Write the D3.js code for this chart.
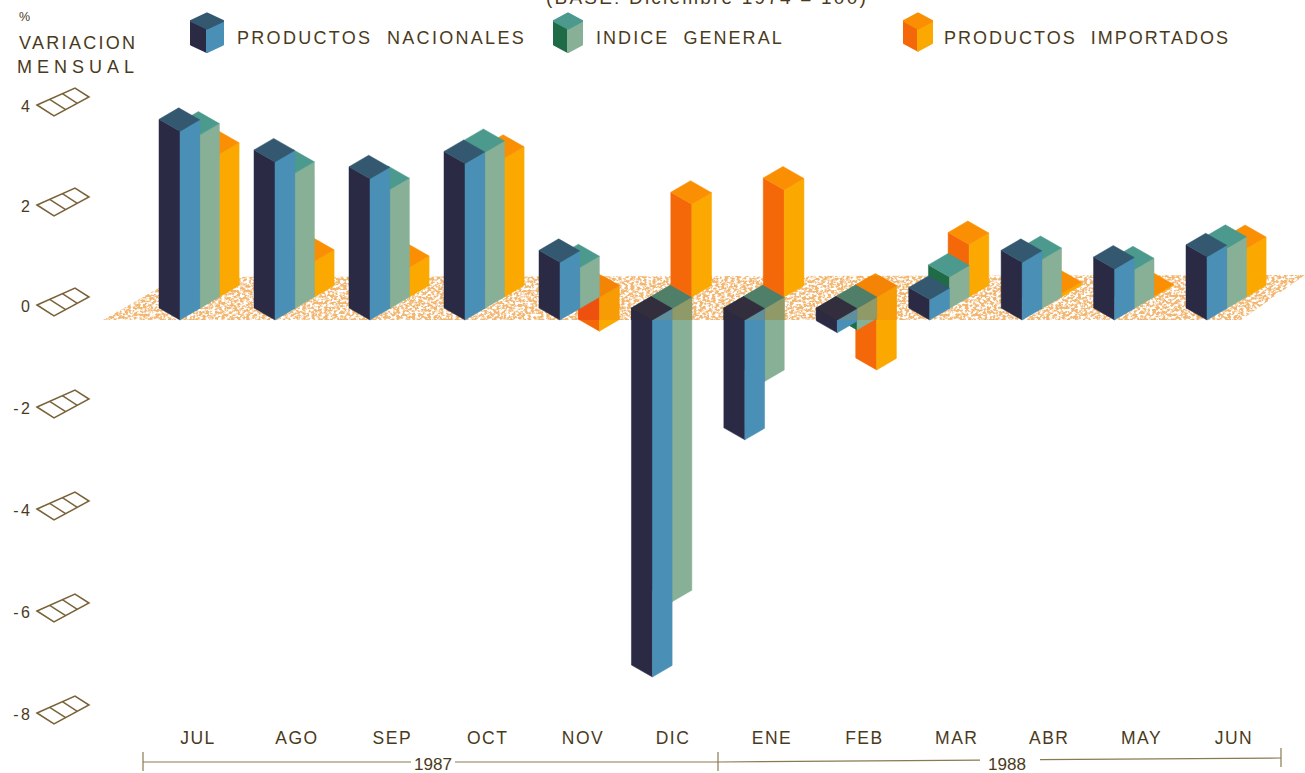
<!DOCTYPE html>
<html><head><meta charset="utf-8">
<script src="https://cdn.jsdelivr.net/npm/d3@7"></script>
<style>html,body{margin:0;background:#fff}svg{display:block}text{font-family:"Liberation Sans",Arial,sans-serif;fill:#4a3a1c}</style>
</head><body><div id="c"></div>
<script>
const months=["JUL","AGO","SEP","OCT","NOV","DIC","ENE","FEB","MAR","ABR","MAY","JUN"];
const seriesNames=["PRODUCTOS  NACIONALES","INDICE  GENERAL","PRODUCTOS  IMPORTADOS"];
const nacionales=[3.7,3.1,2.77,3.07,1.13,-7.0,-2.35,-0.25,0.4,1.13,1.0,1.24];
const general=[3.4,2.65,2.33,3.06,0.8,-5.75,-1.43,-0.42,0.62,0.96,0.76,1.18];
const importados=[2.8,0.7,0.58,2.72,-0.67,1.82,2.1,-1.43,1.03,0.07,0.02,0.95];
const yTicks=[4,2,0,-2,-4,-6,-8];
const years=["1987","1988"];
const W=1305,H=773;
const svg=d3.select("#c").append("svg").attr("width",W).attr("height",H);
const defs=svg.append("defs");
const f=defs.append("filter").attr("id","grain").attr("x",0).attr("y",0).attr("width","100%").attr("height","100%");
f.append("feTurbulence").attr("type","fractalNoise").attr("baseFrequency","0.32 0.42").attr("numOctaves",2).attr("seed",4).attr("result","n");
f.append("feColorMatrix").attr("in","n").attr("type","matrix").attr("values","0 0 0 0 0  0 0 0 0 0  0 0 0 0 0  5 0 0 0 -1.95").attr("result","m");
f.append("feComposite").attr("in","SourceGraphic").attr("in2","m").attr("operator","in");
const floorPts=[[103,320],[178,277],[1305,275],[1241,320]];
const line=d3.line();
defs.append("clipPath").attr("id","floorClip").append("path").attr("d",line(floorPts)+"Z");

const x=d3.scaleLinear().domain([0,4,11]).range([180,560,1207]);
const y=d3.scaleLinear().domain([0,1]).range([320,269]);
const depth={dx:19.7,dy:-11.5};
const leftV={dx:-21,dy:-12},rightV={dx:19.7,dy:-11.5};
const palette=[{l:"#2b2a45",r:"#4a90b6",t:"#33586f"},{l:"#1f6b47",r:"#87b096",t:"#4c9a8e"},{l:"#f4680a",r:"#fba900",t:"#fa8f04"}];
const tinted=[{l:"#2d2a40",r:"#5f8f9c",t:"#322e3e"},{l:"#2f6b47",r:"#8f9a68",t:"#4f7f69"},{l:"#ee5010",r:"#f79c05",t:"#f38406"}];
const all=[nacionales,general,importados];
function face(g,pts,col,sw){g.append("path").attr("d",line(pts)+"Z").attr("fill",col).attr("stroke",col).attr("stroke-width",sw).attr("stroke-linejoin","round");}
function cube(g,cx,cy0,cy1,c,lv,rv,sw){
  lv=lv||leftV;rv=rv||rightV;sw=sw===undefined?0.5:sw;
  const F=[cx,cy0],L=[cx+lv.dx,cy0+lv.dy],R=[cx+rv.dx,cy0+rv.dy],B=[cx+lv.dx+rv.dx,cy0+lv.dy+rv.dy];
  const Fb=[cx,cy1],Lb=[cx+lv.dx,cy1+lv.dy],Rb=[cx+rv.dx,cy1+rv.dy];
  face(g,[L,F,Fb,Lb],c.l,sw);
  face(g,[F,R,Rb,Fb],c.r,sw);
  face(g,[L,B,R,F],c.t,sw);
}
function drawBars(g,cond,pal){
  months.forEach((m,i)=>{
    [2,1,0].forEach(s=>{
      const v=all[s][i];
      if(!cond(v))return;
      const cx=x(i)+s*depth.dx,off=s*depth.dy;
      cube(g,cx,y(Math.max(v,0))+off,y(Math.min(v,0))+off,pal[s]);
    });
  });
}
// stippled floor, then downward bars seen through the floor, then upward bars
svg.append("path").attr("d",line(floorPts)+"Z").attr("fill","#f2b670").attr("filter","url(#grain)");
drawBars(svg.append("g"),v=>v<0,palette);
drawBars(svg.append("g").attr("clip-path","url(#floorClip)"),v=>v<0,tinted);
drawBars(svg.append("g"),v=>v>=0,palette);

// y axis icons
const yIcon=d3.scaleLinear().domain([-8,0,4]).range([710,302,102]);
const gy=svg.append("g");
yTicks.forEach(t=>{
  const cy=yIcon(t),cxi=63;
  const g=gy.append("g").attr("transform",`translate(${cxi},${cy})`);
  const a=[-26,3],b=[12,-14],c=[26,-5],d=[-9,14];
  g.append("path").attr("d",line([a,b,c,d])+"Z").attr("fill","none").attr("stroke","#7a6238").attr("stroke-width",1.5);
  [1/3,2/3].forEach(k=>{
    g.append("path").attr("d",line([[a[0]+(b[0]-a[0])*k,a[1]+(b[1]-a[1])*k],[d[0]+(c[0]-d[0])*k,d[1]+(c[1]-d[1])*k]])).attr("stroke","#7a6238").attr("stroke-width",1.4);
  });
  gy.append("text").attr("x",30).attr("y",cy+10).attr("text-anchor","end").attr("font-size",16).style("word-spacing","-2px").text(t<0?"- "+(-t):t);
});

// headers
svg.append("text").attr("x",546).attr("y",4).attr("font-size",19).attr("letter-spacing",2.2).text("(BASE: Diciembre 1974 = 100)");
svg.append("text").attr("x",19).attr("y",21).attr("font-size",12.5).text("%");
svg.append("text").attr("x",19).attr("y",49).attr("font-size",18).attr("letter-spacing",2.3).text("VARIACION");
svg.append("text").attr("x",17).attr("y",73).attr("font-size",18).attr("letter-spacing",5).text("MENSUAL");

// legend
const legendX=[207,568,918],legendW=[16,14,14],legendTextX=[237,596,944],legendLS=[2.3,2.05,2.0],legendBottom=[52,52,50.5];
seriesNames.forEach((n,s)=>{
  const g=svg.append("g"),w=legendW[s];
  cube(g,legendX[s],28.5,legendBottom[s],palette[s],{dx:-w,dy:-7.5},{dx:w,dy:-7.5},2);
  svg.append("text").attr("x",legendTextX[s]).attr("y",44).attr("font-size",18).attr("letter-spacing",legendLS[s]).style("white-space","pre").text(n);
});

// month labels
const xLab=d3.scaleLinear().domain([0,1,4,5,6,11]).range([198,297,583,673,772,1234]);
svg.append("g").selectAll("text").data(months).join("text")
  .attr("x",(d,i)=>xLab(i)).attr("y",744).attr("text-anchor","middle").attr("font-size",17.5).attr("letter-spacing",1.5).text(d=>d);

// year brackets
const xYear=d3.scaleLinear().domain([0,1,2]).range([143,718,1281]);
const yearY=[762,762,758];
const gapC=[433,1007],gapL=[22,27],gapR=[22,33];
const gb=svg.append("g").attr("stroke","#8a7a50").attr("stroke-width",1.2).attr("fill","none");
years.forEach((yr,i)=>{
  const a=xYear(i),b=xYear(i+1),m=gapC[i];
  const yAt=d3.scaleLinear().domain([a,b]).range([yearY[i],yearY[i+1]]);
  gb.append("line").attr("x1",a).attr("x2",m-gapL[i]).attr("y1",yAt(a)).attr("y2",yAt(m-gapL[i]));
  gb.append("line").attr("x1",m+gapR[i]).attr("x2",b).attr("y1",yAt(m+gapR[i])).attr("y2",yAt(b));
  svg.append("text").attr("x",m).attr("y",770).attr("text-anchor","middle").attr("font-size",17).attr("textLength",38).attr("lengthAdjust","spacingAndGlyphs").text(yr);
});
xYear.domain().forEach((k,i)=>gb.append("line").attr("x1",xYear(k)).attr("x2",xYear(k)).attr("y1",yearY[i]-10).attr("y2",yearY[i]+9));
</script></body></html>
